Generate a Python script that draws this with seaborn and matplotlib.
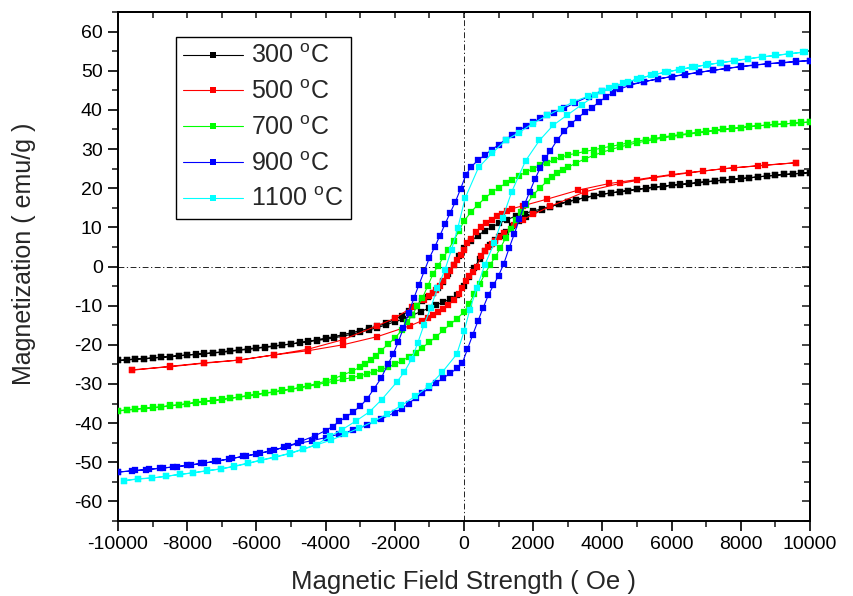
import matplotlib
matplotlib.use("Agg")
import matplotlib.pyplot as plt
from matplotlib.lines import Line2D
from matplotlib.ticker import MultipleLocator, FuncFormatter, NullFormatter
import pandas as pd
import seaborn as sns

# ---------------- data (H in Oe, M in emu/g) ----------------
labels = ["300 $^{\\rm o}$C", "500 $^{\\rm o}$C", "700 $^{\\rm o}$C",
          "900 $^{\\rm o}$C", "1100 $^{\\rm o}$C"]
colors = ["#000000", "#ff0000", "#00ff00", "#0000ff", "#00ffff"]
x_ticks = [-10000, -8000, -6000, -4000, -2000, 0, 2000, 4000, 6000, 8000, 10000]
y_ticks = [-60, -50, -40, -30, -20, -10, 0, 10, 20, 30, 40, 50, 60]

down_300 = [(10000, 24.0), (9750, 23.8), (9500, 23.7), (9250, 23.5), (9000, 23.3), (8750, 23.1),
            (8500, 22.9), (8250, 22.6), (8000, 22.4), (7750, 22.2), (7500, 22.0), (7250, 21.8),
            (7000, 21.6), (6750, 21.3), (6500, 21.1), (6250, 20.9), (6000, 20.7), (5750, 20.4),
            (5500, 20.2), (5250, 19.9), (5000, 19.7), (4750, 19.4), (4500, 19.1), (4250, 18.8),
            (4000, 18.5), (3750, 18.1), (3500, 17.6), (3250, 17.1), (3000, 16.5), (2750, 15.9),
            (2500, 15.3), (2250, 14.7), (2000, 14.2), (1750, 13.5), (1500, 12.9), (1250, 12.0),
            (1000, 11.0), (800, 10.0), (600, 9.1), (400, 7.9), (200, 6.5), (0, 4.7), (-150, 2.7),
            (-300, 0.3), (-450, -2.0), (-600, -4.0), (-750, -5.6), (-900, -6.8), (-1050, -7.8),
            (-1200, -8.8), (-1400, -10.0), (-1600, -11.3), (-1800, -12.6), (-2000, -13.5),
            (-2250, -14.5), (-2500, -15.2), (-2750, -15.8), (-3000, -16.4), (-3250, -16.9),
            (-3500, -17.4), (-3750, -17.9), (-4000, -18.3), (-4250, -18.7), (-4500, -19.1),
            (-4750, -19.4), (-5000, -19.8), (-5250, -20.1), (-5500, -20.4), (-5750, -20.7),
            (-6000, -20.9), (-6250, -21.2), (-6500, -21.4), (-6750, -21.7), (-7000, -21.9),
            (-7250, -22.1), (-7500, -22.3), (-7750, -22.5), (-8000, -22.6), (-8250, -22.8),
            (-8500, -23.0), (-8750, -23.2), (-9000, -23.3), (-9250, -23.5), (-9500, -23.6),
            (-9750, -23.8), (-10000, -24.0)]
up_300 = [(-10000, -24.0), (-9750, -23.9), (-9500, -23.7), (-9250, -23.6), (-9000, -23.4),
          (-8750, -23.2), (-8500, -23.0), (-8250, -22.8), (-8000, -22.6), (-7750, -22.4),
          (-7500, -22.2), (-7250, -22.0), (-7000, -21.8), (-6750, -21.5), (-6500, -21.3),
          (-6250, -21.0), (-6000, -20.8), (-5750, -20.5), (-5500, -20.3), (-5250, -20.0),
          (-5000, -19.8), (-4750, -19.5), (-4500, -19.2), (-4250, -18.9), (-4000, -18.6),
          (-3750, -18.2), (-3500, -17.8), (-3250, -17.3), (-3000, -16.8), (-2750, -16.2),
          (-2500, -15.6), (-2250, -14.9), (-2000, -14.1), (-1750, -13.4), (-1500, -12.5),
          (-1250, -11.5), (-1000, -10.6), (-800, -9.8), (-600, -9.1), (-400, -8.3), (-200, -7.2),
          (0, -5.0), (150, -2.7), (300, -0.4), (450, 2.0), (600, 4.0), (750, 5.6), (900, 6.7),
          (1050, 7.9), (1200, 8.9), (1400, 10.4), (1600, 11.6), (1800, 12.7), (2000, 13.6),
          (2250, 14.5), (2500, 15.3), (2750, 16.0), (3000, 16.6), (3250, 17.1), (3500, 17.6),
          (3750, 18.0), (4000, 18.4), (4250, 18.8), (4500, 19.1), (4750, 19.4), (5000, 19.7),
          (5250, 20.0), (5500, 20.3), (5750, 20.5), (6000, 20.8), (6250, 21.0), (6500, 21.2),
          (6750, 21.5), (7000, 21.7), (7250, 21.9), (7500, 22.1), (7750, 22.3), (8000, 22.5),
          (8250, 22.7), (8500, 22.9), (8750, 23.1), (9000, 23.3), (9250, 23.5), (9500, 23.6),
          (9750, 23.8), (10000, 24.0)]

down_500 = [(9600, 26.5), (8700, 25.9), (7800, 25.2), (6900, 24.4), (6000, 23.5), (5000, 22.2),
            (4200, 21.2), (3300, 19.5), (2400, 17.2), (1700, 15.5), (1400, 14.8), (1250, 14.1),
            (1100, 13.5), (950, 12.8), (800, 11.9), (650, 11.1), (500, 10.1), (350, 8.8),
            (200, 7.1), (100, 6.0), (0, 4.3), (-100, 2.9), (-200, 1.6), (-300, 0.3), (-400, -1.1),
            (-500, -2.5), (-600, -3.7), (-700, -4.9), (-800, -5.9), (-900, -6.7), (-1000, -7.5),
            (-1150, -8.6), (-1500, -10.4), (-2000, -13.2), (-2500, -15.1), (-3500, -18.7),
            (-4500, -21.1), (-5500, -22.6), (-6500, -23.9), (-7500, -24.7), (-8500, -25.6),
            (-9600, -26.4)]
up_500 = [(-9600, -26.5), (-8500, -25.5), (-7500, -24.6), (-6500, -23.9), (-5500, -22.6),
          (-4500, -21.5), (-3500, -20.0), (-2500, -17.9), (-1550, -15.1), (-1200, -13.8),
          (-1050, -13.1), (-900, -12.4), (-750, -11.7), (-600, -10.8), (-450, -9.8),
          (-300, -8.6), (-150, -7.1), (-50, -5.6), (50, -3.8), (150, -2.5), (250, -1.4),
          (370, 0.0), (500, 2.6), (600, 3.9), (700, 4.9), (800, 5.8), (900, 6.6), (1000, 7.5),
          (1150, 8.6), (1450, 10.6), (1700, 12.0), (2000, 13.3), (2500, 15.4), (3500, 19.1),
          (4500, 21.2), (5500, 22.7), (6500, 23.9), (7500, 25.0), (8500, 25.7), (9600, 26.5)]

down_700 = [(10000, 36.9), (9750, 36.7), (9500, 36.6), (9250, 36.4), (9000, 36.3), (8750, 36.1),
            (8500, 36.0), (8250, 35.8), (8000, 35.5), (7750, 35.3), (7500, 35.0), (7250, 34.8),
            (7000, 34.5), (6750, 34.3), (6500, 34.0), (6250, 33.7), (6000, 33.4), (5750, 33.1),
            (5500, 32.7), (5250, 32.4), (5000, 32.0), (4750, 31.6), (4500, 31.1), (4250, 30.7),
            (4000, 30.3), (3750, 29.8), (3500, 29.4), (3250, 28.9), (3000, 28.5), (2800, 27.9),
            (2600, 27.2), (2400, 26.5), (2200, 25.8), (2000, 25.0), (1800, 24.2), (1600, 23.2),
            (1400, 22.2), (1200, 21.2), (1000, 20.1), (800, 18.9), (600, 17.4), (400, 15.8),
            (200, 13.9), (0, 11.6), (-150, 9.0), (-300, 6.6), (-450, 4.3), (-600, 2.3),
            (-750, 0.2), (-900, -2.0), (-1050, -5.0), (-1200, -8.0), (-1350, -10.2),
            (-1500, -12.4), (-1650, -14.3), (-1800, -16.3), (-2000, -18.3), (-2200, -19.9),
            (-2400, -21.5), (-2550, -22.8), (-2700, -24.0), (-2850, -24.9), (-3000, -25.7),
            (-3250, -26.8), (-3500, -27.7), (-3750, -28.6), (-4000, -29.3), (-4250, -29.9),
            (-4500, -30.4), (-4750, -30.9), (-5000, -31.3), (-5250, -31.6), (-5500, -32.0),
            (-5750, -32.3), (-6000, -32.6), (-6250, -32.9), (-6500, -33.3), (-6750, -33.6),
            (-7000, -33.9), (-7250, -34.2), (-7500, -34.4), (-7750, -34.7), (-8000, -35.0),
            (-8250, -35.3), (-8500, -35.5), (-8750, -35.8), (-9000, -36.0), (-9250, -36.2),
            (-9500, -36.4), (-9750, -36.6), (-10000, -36.8)]
up_700 = [(-10000, -36.9), (-9750, -36.7), (-9500, -36.5), (-9250, -36.3), (-9000, -36.1),
          (-8750, -35.9), (-8500, -35.6), (-8250, -35.4), (-8000, -35.1), (-7750, -34.8),
          (-7500, -34.5), (-7250, -34.3), (-7000, -34.0), (-6750, -33.7), (-6500, -33.4),
          (-6250, -33.1), (-6000, -32.8), (-5750, -32.4), (-5500, -32.1), (-5250, -31.7),
          (-5000, -31.4), (-4750, -31.0), (-4500, -30.6), (-4250, -30.2), (-4000, -29.7),
          (-3750, -29.3), (-3500, -28.8), (-3250, -28.4), (-3000, -27.9), (-2800, -27.4),
          (-2600, -26.9), (-2400, -26.3), (-2200, -25.7), (-2000, -25.0), (-1800, -24.1),
          (-1600, -23.1), (-1400, -22.0), (-1200, -20.7), (-1000, -19.3), (-800, -17.9),
          (-600, -16.3), (-400, -14.8), (-200, -13.3), (0, -11.6), (150, -9.5), (300, -7.0),
          (450, -4.5), (600, -2.0), (750, 0.4), (900, 2.4), (1050, 4.7), (1200, 7.2),
          (1350, 9.6), (1500, 11.9), (1650, 13.9), (1800, 15.8), (2000, 18.3), (2200, 20.1),
          (2400, 21.8), (2550, 22.9), (2700, 23.8), (2850, 24.6), (3000, 25.3), (3250, 26.5),
          (3500, 27.5), (3750, 28.4), (4000, 29.2), (4250, 29.9), (4500, 30.5), (4750, 31.1),
          (5000, 31.6), (5250, 32.0), (5500, 32.4), (5750, 32.8), (6000, 33.2), (6250, 33.5),
          (6500, 33.8), (6750, 34.1), (7000, 34.4), (7250, 34.7), (7500, 35.0), (7750, 35.2),
          (8000, 35.4), (8250, 35.7), (8500, 35.9), (8750, 36.1), (9000, 36.3), (9250, 36.4),
          (9500, 36.6), (9750, 36.8), (10000, 36.9)]

down_900 = [(10000, 52.6), (9600, 52.3), (9200, 52.0), (8800, 51.8), (8400, 51.5), (8000, 51.1),
            (7600, 50.6), (7200, 50.1), (6800, 49.6), (6400, 49.0), (6000, 48.5), (5600, 47.9),
            (5200, 47.2), (4800, 46.5), (4400, 45.8), (4000, 44.9), (3600, 43.4), (3200, 41.8),
            (2900, 40.4), (2600, 39.3), (2400, 38.6), (2200, 37.8), (2000, 36.9), (1800, 35.9),
            (1600, 34.8), (1400, 33.6), (1200, 32.4), (1000, 31.1), (800, 29.8), (600, 28.5),
            (400, 27.1), (200, 25.4), (50, 23.3), (-100, 19.8), (-250, 16.5), (-400, 13.7),
            (-550, 10.8), (-700, 7.8), (-850, 4.9), (-1000, 2.2), (-1150, -1.2), (-1300, -4.6),
            (-1450, -8.1), (-1600, -11.9), (-1750, -15.7), (-1900, -19.3), (-2050, -22.4),
            (-2200, -25.0), (-2400, -28.6), (-2600, -31.2), (-2800, -33.8), (-3000, -35.7),
            (-3200, -37.1), (-3400, -38.4), (-3600, -39.5), (-3800, -40.9), (-4000, -41.9),
            (-4300, -43.2), (-4700, -44.6), (-5100, -45.9), (-5500, -46.9), (-5900, -47.7),
            (-6300, -48.4), (-6700, -49.0), (-7100, -49.6), (-7500, -50.2), (-7900, -50.7),
            (-8300, -51.1), (-8700, -51.5), (-9100, -51.8), (-9500, -52.1), (-10000, -52.5)]
up_900 = [(-10000, -52.5), (-9600, -52.2), (-9200, -51.9), (-8800, -51.5), (-8400, -51.2),
          (-8000, -50.8), (-7600, -50.3), (-7200, -49.8), (-6800, -49.2), (-6400, -48.5),
          (-6000, -47.9), (-5600, -47.1), (-5200, -46.2), (-4800, -45.2), (-4400, -44.5),
          (-4000, -43.7), (-3600, -42.8), (-3200, -41.8), (-2800, -40.5), (-2400, -39.0),
          (-2000, -37.3), (-1800, -36.3), (-1600, -35.0), (-1400, -33.6), (-1200, -32.3),
          (-1000, -31.0), (-800, -29.7), (-600, -28.5), (-400, -27.3), (-200, -26.0),
          (-50, -24.7), (100, -21.1), (250, -17.5), (400, -14.0), (550, -10.6), (700, -7.4),
          (850, -4.8), (1000, -2.3), (1150, 0.7), (1300, 4.6), (1450, 8.2), (1600, 12.1),
          (1750, 15.9), (1900, 19.1), (2050, 22.3), (2200, 25.1), (2350, 27.7), (2500, 29.6),
          (2700, 32.4), (2900, 34.6), (3100, 36.5), (3300, 38.0), (3500, 39.5), (3700, 40.6),
          (3900, 42.0), (4100, 43.3), (4300, 44.4), (4500, 45.3), (4800, 46.3), (5200, 47.2),
          (5600, 47.9), (6000, 48.5), (6400, 49.1), (6800, 49.6), (7200, 50.1), (7600, 50.6),
          (8000, 51.0), (8400, 51.4), (8800, 51.8), (9200, 52.1), (9600, 52.4), (10000, 52.6)]

down_1100 = [(9850, 54.8), (9420, 54.4), (9010, 53.9), (8640, 53.6), (8220, 53.1), (7830, 52.6),
             (7440, 52.1), (7060, 51.6), (6670, 51.0), (6290, 50.4), (5900, 49.7), (5520, 49.1),
             (5130, 48.2), (4750, 47.2), (4360, 46.1), (3980, 44.9), (3590, 43.5), (3160, 42.1),
             (2800, 40.3), (2410, 38.6), (1980, 36.5), (1590, 34.2), (1200, 32.2), (820, 29.0),
             (420, 25.3), (30, 17.4), (-180, 9.8), (-360, 4.3), (-550, -0.8), (-770, -5.6),
             (-960, -10.5), (-1160, -15.0), (-1340, -19.6), (-1510, -23.6), (-1730, -27.0),
             (-1950, -29.6), (-2380, -34.0), (-2730, -37.1), (-3130, -39.5), (-3530, -41.7),
             (-3880, -43.4), (-4270, -45.5), (-4650, -46.6), (-5040, -47.7), (-5450, -48.6),
             (-5860, -49.4), (-6240, -50.2), (-6650, -51.0), (-7030, -51.7), (-7420, -52.1),
             (-7830, -52.7), (-8220, -53.1), (-8620, -53.6), (-9010, -54.0), (-9420, -54.2),
             (-9830, -54.7)]
up_1100 = [(-9830, -54.7), (-9420, -54.3), (-9010, -54.0), (-8620, -53.6), (-8220, -53.1),
           (-7830, -52.7), (-7420, -52.2), (-7030, -51.7), (-6650, -51.1), (-6240, -50.3),
           (-5860, -49.5), (-5450, -48.7), (-5040, -47.8), (-4650, -46.7), (-4240, -45.5),
           (-3830, -44.3), (-3430, -42.8), (-3040, -41.3), (-2600, -39.5), (-2220, -37.7),
           (-1810, -35.5), (-1420, -33.2), (-1020, -30.6), (-630, -27.0), (-210, -22.4),
           (0, -16.6), (170, -11.0), (370, -5.5), (600, 0.4), (870, 5.9), (1120, 12.5),
           (1380, 19.1), (1780, 27.0), (2180, 32.2), (2580, 36.1), (2970, 38.6), (3400, 41.3),
           (3800, 43.7), (4200, 45.6), (4600, 46.8), (5000, 47.8), (5400, 48.8), (5800, 49.6),
           (6200, 50.3), (6600, 50.9), (7000, 51.5), (7400, 52.0), (7800, 52.5), (8200, 53.0),
           (8600, 53.5), (9000, 53.9), (9400, 54.3), (9800, 54.7)]

loops = [(down_300, up_300), (down_500, up_500), (down_700, up_700),
         (down_900, up_900), (down_1100, up_1100)]

# ---------------- style ----------------
sns.set_style("ticks")
plt.rcParams["font.family"] = ["Liberation Sans", "DejaVu Sans"]
plt.rcParams["mathtext.fontset"] = "custom"
plt.rcParams["mathtext.rm"] = "Liberation Sans"
plt.rcParams["mathtext.it"] = "Liberation Sans:italic"
plt.rcParams["axes.unicode_minus"] = False

fig = plt.figure(figsize=(8.54, 5.96), dpi=100)
ax = fig.add_axes([118 / 854, 75 / 596, 692 / 854, 509 / 596])

dashdot = (0, (7, 3, 1.5, 3))
ax.axhline(0, color="black", lw=0.6, ls=dashdot, zorder=1)
ax.axvline(0, color="black", lw=0.6, ls=dashdot, zorder=1)

for (down, up), col in zip(loops, colors):
    df = pd.DataFrame(down + up, columns=["H", "M"])
    sns.lineplot(data=df, x="H", y="M", sort=False, estimator=None, ax=ax,
                 color=col, lw=0.8, marker="s", markersize=3.9,
                 markeredgecolor=col, markeredgewidth=0.2, legend=False, zorder=3)

ax.set_xlim(-10000, 10000)
ax.set_ylim(-65, 65)
ax.set_xticks(x_ticks)
ax.set_yticks(y_ticks)
ax.xaxis.set_minor_locator(MultipleLocator(1000))
ax.yaxis.set_minor_locator(MultipleLocator(5))
ax.xaxis.set_major_formatter(FuncFormatter(lambda v, p: f"{int(round(v))}"))
ax.yaxis.set_major_formatter(FuncFormatter(lambda v, p: f"{int(round(v))}"))
ax.tick_params(which="major", direction="out", length=7, width=1.2, labelsize=14,
               pad=4, colors="black")
ax.tick_params(which="minor", direction="out", length=4, width=1.2)
for s in ax.spines.values():
    s.set_linewidth(1.4)
    s.set_color("black")

secx = ax.secondary_xaxis("top")
secx.xaxis.set_major_locator(MultipleLocator(2000))
secx.xaxis.set_minor_locator(MultipleLocator(1000))
secx.xaxis.set_major_formatter(NullFormatter())
secx.tick_params(which="both", direction="in", length=4, width=1.2)
secx.spines["top"].set_linewidth(1.4)
secy = ax.secondary_yaxis("right")
secy.yaxis.set_major_locator(MultipleLocator(10))
secy.yaxis.set_minor_locator(MultipleLocator(5))
secy.yaxis.set_major_formatter(NullFormatter())
secy.tick_params(which="major", direction="in", length=6, width=1.2)
secy.tick_params(which="minor", direction="in", length=4, width=1.2)
secy.spines["right"].set_linewidth(1.4)

ax.set_xlabel("Magnetic Field Strength ( Oe )", fontsize=18.5, labelpad=12)
ax.set_ylabel("Magnetization ( emu/g )", fontsize=18, labelpad=27)
ax.yaxis.set_label_coords(-0.118, 0.525)

handles = [Line2D([], [], color=c, lw=0.8, marker="s", markersize=4.5,
                  markeredgewidth=0) for c in colors]
leg = ax.legend(handles, labels, loc="upper left", bbox_to_anchor=(0.0838, 0.951),
                borderaxespad=0, fontsize=18, frameon=True, fancybox=False,
                edgecolor="black", framealpha=1, handlelength=2.4,
                handletextpad=0.32, labelspacing=0.47, borderpad=0.3)
leg.get_frame().set_linewidth(1.0)

fig.savefig("out.png", dpi=100)
